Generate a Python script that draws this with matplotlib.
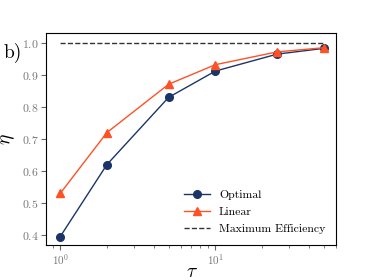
import matplotlib
matplotlib.use("Agg")
import matplotlib.pyplot as plt

plt.rcParams['font.family'] = 'serif'
plt.rcParams['font.serif'] = ['cmr10', 'DejaVu Serif']
plt.rcParams['mathtext.fontset'] = 'cm'
plt.rcParams['axes.formatter.use_mathtext'] = True

tau = [1, 2, 5, 10, 25, 50]
eta_optimal = [0.395, 0.62, 0.83, 0.912, 0.965, 0.983]
eta_linear = [0.53, 0.72, 0.871, 0.932, 0.972, 0.985]
eta_max = [1.0, 1.0]
tau_max = [1, 50]

fig = plt.figure(figsize=(3.74, 2.80), dpi=100)
ax = fig.add_axes([46/374, 35/280, 290/374, 212/280])

ax.plot(tau, eta_optimal, color='#1c3568', marker='o', markersize=5.5, lw=1, label='Optimal')
ax.plot(tau, eta_linear, color='#ff5126', marker='^', markersize=6, lw=1, label='Linear')
ax.plot(tau_max, eta_max, color='#333333', ls='--', lw=1, label='Maximum Efficiency')

ax.set_xscale('log')
ax.set_xlim(0.81, 60)
ax.set_ylim(0.369, 1.031)
ax.set_yticks([0.4, 0.5, 0.6, 0.7, 0.8, 0.9, 1.0])
ax.tick_params(labelsize=8.5, labelcolor='#777777', color='#666666', pad=2)
ax.tick_params(axis='x', labelsize=8)
ax.tick_params(which='minor', color='#666666')

ax.set_xlabel(r'$\tau$', fontsize=14)
ax.set_ylabel(r'$\eta$', fontsize=14)
ax.xaxis.set_label_coords(0.503, -0.085)
ax.yaxis.set_label_coords(-0.10, 0.5)

ax.legend(loc='lower right', frameon=False, fontsize=8.5, bbox_to_anchor=(1.0, 0.0),
          handlelength=2.2, labelspacing=0.6)

fig.text(4/374, 1 - 53/280, 'b)', fontsize=14, va='center')

fig.savefig('out.png', dpi=100)
